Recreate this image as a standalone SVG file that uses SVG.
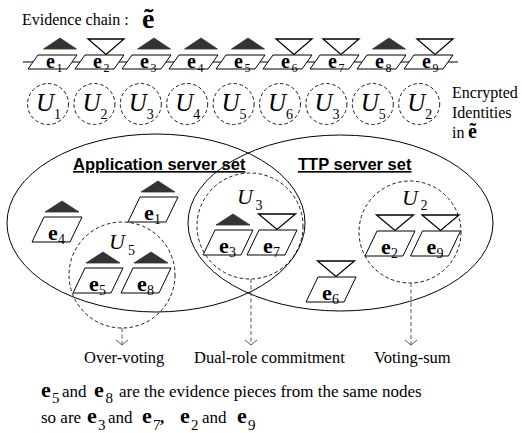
<svg xmlns="http://www.w3.org/2000/svg" width="522" height="433" viewBox="0 0 522 433">
<style>
  .t16{font-family:'Liberation Serif','Times New Roman',serif;font-size:16px;fill:#000}
  .big{font-family:'Liberation Serif','Times New Roman',serif;font-size:28px;font-weight:bold;fill:#000}
  .ce{font-family:'Liberation Serif','Times New Roman',serif;font-size:20px;font-weight:bold;fill:#000}
  .cs{font-family:'Liberation Serif','Times New Roman',serif;font-size:12px;fill:#000}
  .cu{font-family:'Liberation Serif','Times New Roman',serif;font-size:25px;font-style:italic;fill:#000}
  .cus{font-family:'Liberation Serif','Times New Roman',serif;font-size:14px;fill:#000}
  .iu{font-family:'Liberation Serif','Times New Roman',serif;font-size:22px;font-style:italic;fill:#000}
  .ie{font-family:'Liberation Serif','Times New Roman',serif;font-size:22px;font-weight:bold;fill:#000}
  .is{font-family:'Liberation Serif','Times New Roman',serif;font-size:14px;fill:#000}
  .ns{font-family:'Liberation Serif','Times New Roman',serif;font-size:15px;fill:#000}
  .lab{font-family:'Liberation Serif','Times New Roman',serif;font-size:16.5px;fill:#000}
  .txt{font-family:'Liberation Serif','Times New Roman',serif;font-size:17px;fill:#000}
  .txb{font-family:'Liberation Serif','Times New Roman',serif;font-size:17px;font-weight:bold;fill:#000}
  .ttl{font-family:'Liberation Sans',Arial,sans-serif;font-weight:bold;font-size:16.5px;text-decoration:underline;fill:#000}
  .box{fill:#fff;stroke:#000;stroke-width:1}
  .up{fill:#333;stroke:#333;stroke-width:0.8}
  .dn{fill:#fff;stroke:#000;stroke-width:1.3}
  .dc{fill:none;stroke:#000;stroke-width:0.9;stroke-dasharray:3.5 2.5}
  .set{fill:none;stroke:#000;stroke-width:1}
  .arr{fill:none;stroke:#555;stroke-width:1;stroke-dasharray:4 2.5}
  .chain{fill:none;stroke:#000;stroke-width:1}
</style>
<defs>
  <!-- chain piece and set piece outlines -->
  <path id="cb" d="M0,0 H39 L29,14 H-10 Z"/>
  <path id="ib" d="M0,0 H38 L26,25 H-12 Z"/>
  <!-- role marks: filled = application, open inverted = TTP -->
  <path id="cup" d="M-16.5,0 L0,-11 L16.5,0 Z"/>
  <path id="cdn" d="M-18,0 H18 L0,15.5 Z"/>
  <path id="iup" d="M-17,0 L0,-11 L17,0 Z"/>
  <path id="idn" d="M-18.5,0 H18.5 L0,15.5 Z"/>
  <marker id="ah" markerUnits="userSpaceOnUse" markerWidth="14" markerHeight="14" refX="0" refY="0" viewBox="-7 -7 14 14" orient="auto" overflow="visible">
    <path d="M-5,-6 L0,0 L-5,6" fill="none" stroke="#555" stroke-width="1" stroke-dasharray="none"/>
  </marker>
</defs>

<text x="22" y="25" class="t16">Evidence chain :</text>
<text x="142" y="28" class="big">ẽ</text>

<!-- evidence chain -->
<g id="chain-line">
  <path class="chain" d="M23,62 H458"/>
</g>
<g id="c-e1"><use href="#cup" class="up" x="60" y="49"/><use href="#cb" class="box" x="38" y="55"/><text x="46" y="68" class="ce">e</text><text x="56.5" y="72" class="cs">1</text></g>
<g id="c-e2"><use href="#cdn" class="dn" x="106" y="39"/><use href="#cb" class="box" x="85" y="55"/><text x="93" y="68" class="ce">e</text><text x="103.5" y="72" class="cs">2</text></g>
<g id="c-e3"><use href="#cup" class="up" x="154" y="49"/><use href="#cb" class="box" x="132" y="55"/><text x="140" y="68" class="ce">e</text><text x="150.5" y="72" class="cs">3</text></g>
<g id="c-e4"><use href="#cup" class="up" x="201" y="49"/><use href="#cb" class="box" x="179" y="55"/><text x="187" y="68" class="ce">e</text><text x="197.5" y="72" class="cs">4</text></g>
<g id="c-e5"><use href="#cup" class="up" x="248" y="49"/><use href="#cb" class="box" x="226" y="55"/><text x="234" y="68" class="ce">e</text><text x="244.5" y="72" class="cs">5</text></g>
<g id="c-e6"><use href="#cdn" class="dn" x="294" y="39"/><use href="#cb" class="box" x="273" y="55"/><text x="281" y="68" class="ce">e</text><text x="291.5" y="72" class="cs">6</text></g>
<g id="c-e7"><use href="#cdn" class="dn" x="341" y="39"/><use href="#cb" class="box" x="320" y="55"/><text x="328" y="68" class="ce">e</text><text x="338.5" y="72" class="cs">7</text></g>
<g id="c-e8"><use href="#cup" class="up" x="389" y="49"/><use href="#cb" class="box" x="367" y="55"/><text x="375" y="68" class="ce">e</text><text x="385.5" y="72" class="cs">8</text></g>
<g id="c-e9"><use href="#cdn" class="dn" x="435" y="39"/><use href="#cb" class="box" x="414" y="55"/><text x="422" y="68" class="ce">e</text><text x="432.5" y="72" class="cs">9</text></g>

<!-- encrypted identities -->
<g id="id1"><circle class="dc" cx="48" cy="104" r="20.5"/><text x="36" y="111" class="cu">U</text><text x="54" y="119" class="cus">1</text></g>
<g id="id2"><circle class="dc" cx="94.4" cy="104" r="20.5"/><text x="82.4" y="111" class="cu">U</text><text x="100.4" y="119" class="cus">2</text></g>
<g id="id3"><circle class="dc" cx="140.8" cy="104" r="20.5"/><text x="128.8" y="111" class="cu">U</text><text x="146.8" y="119" class="cus">3</text></g>
<g id="id4"><circle class="dc" cx="187.2" cy="104" r="20.5"/><text x="175.2" y="111" class="cu">U</text><text x="193.2" y="119" class="cus">4</text></g>
<g id="id5"><circle class="dc" cx="233.6" cy="104" r="20.5"/><text x="221.6" y="111" class="cu">U</text><text x="239.6" y="119" class="cus">5</text></g>
<g id="id6"><circle class="dc" cx="280" cy="104" r="20.5"/><text x="268" y="111" class="cu">U</text><text x="286" y="119" class="cus">6</text></g>
<g id="id7"><circle class="dc" cx="326.4" cy="104" r="20.5"/><text x="314.4" y="111" class="cu">U</text><text x="332.4" y="119" class="cus">3</text></g>
<g id="id8"><circle class="dc" cx="372.8" cy="104" r="20.5"/><text x="360.8" y="111" class="cu">U</text><text x="378.8" y="119" class="cus">5</text></g>
<g id="id9"><circle class="dc" cx="419.2" cy="104" r="20.5"/><text x="407.2" y="111" class="cu">U</text><text x="425.2" y="119" class="cus">2</text></g>

<g id="legend">
  <text x="452" y="98" class="t16">Encrypted</text>
  <text x="452" y="118" class="t16">Identities</text>
  <text x="452" y="138" class="t16">in</text>
  <text x="468" y="138" class="ce">ẽ</text>
</g>

<!-- server sets -->
<g id="app-set">
  <ellipse class="set" cx="156" cy="223" rx="149" ry="89"/>
  <text x="73" y="170" class="ttl">Application server set</text>
</g>
<g id="ttp-set">
  <ellipse class="set" cx="340.5" cy="223" rx="152.5" ry="88"/>
  <text x="298" y="170" class="ttl">TTP server set</text>
</g>

<!-- node groups -->
<g id="u5">
  <circle class="dc" cx="122" cy="275" r="53"/>
  <text x="109" y="249" class="iu">U</text><text x="128" y="255" class="is">5</text>
</g>
<g id="u3">
  <circle class="dc" cx="250" cy="226" r="53"/>
  <text x="237" y="204" class="iu">U</text><text x="255.5" y="210" class="is">3</text>
</g>
<g id="u2">
  <circle class="dc" cx="410" cy="232" r="51"/>
  <text x="402" y="205" class="iu">U</text><text x="420.5" y="210" class="is">2</text>
</g>

<g id="s-e4"><use href="#iup" class="up" x="62" y="212"/><use href="#ib" class="box" x="44" y="217"/><text x="48" y="240" class="ie">e</text><text x="58" y="244" class="is">4</text></g>
<g id="s-e1"><use href="#iup" class="up" x="158" y="192"/><use href="#ib" class="box" x="140" y="197"/><text x="144" y="220" class="ie">e</text><text x="154" y="224" class="is">1</text></g>
<g id="s-e5"><use href="#iup" class="up" x="103" y="263"/><use href="#ib" class="box" x="85" y="268"/><text x="89" y="291" class="ie">e</text><text x="99" y="295" class="is">5</text></g>
<g id="s-e8"><use href="#iup" class="up" x="151" y="263"/><use href="#ib" class="box" x="133" y="268"/><text x="137" y="291" class="ie">e</text><text x="147" y="295" class="is">8</text></g>
<g id="s-e3"><use href="#iup" class="up" x="233" y="225"/><use href="#ib" class="box" x="215" y="230"/><text x="219" y="253" class="ie">e</text><text x="229" y="257" class="is">3</text></g>
<g id="s-e7"><use href="#idn" class="dn" x="277" y="214"/><use href="#ib" class="box" x="259" y="230"/><text x="263" y="253" class="ie">e</text><text x="273" y="257" class="is">7</text></g>
<g id="s-e6"><use href="#idn" class="dn" x="336" y="261"/><use href="#ib" class="box" x="318" y="277"/><text x="322" y="300" class="ie">e</text><text x="332" y="304" class="is">6</text></g>
<g id="s-e2"><use href="#idn" class="dn" x="395" y="215"/><use href="#ib" class="box" x="377" y="231"/><text x="381" y="254" class="ie">e</text><text x="391" y="258" class="is">2</text></g>
<g id="s-e9"><use href="#idn" class="dn" x="440.5" y="215"/><use href="#ib" class="box" x="422.5" y="231"/><text x="426.5" y="254" class="ie">e</text><text x="436.5" y="258" class="is">9</text></g>

<!-- connectors -->
<g id="connectors">
  <path class="arr" d="M122,328 V345" marker-end="url(#ah)"/>
  <path class="arr" d="M251,279 V345" marker-end="url(#ah)"/>
  <path class="arr" d="M411,283 V345" marker-end="url(#ah)"/>
</g>

<g id="labels">
  <text x="84" y="363" class="lab">Over-voting</text>
  <text x="194" y="363" class="lab">Dual-role commitment</text>
  <text x="374" y="363" class="lab">Voting-sum</text>
</g>

<!-- note -->
<g id="note">
  <text x="41" y="397" class="ie">e</text><text x="52" y="403" class="ns">5</text>
  <text x="62" y="397" class="txt">and</text>
  <text x="94" y="397" class="ie">e</text><text x="105.5" y="403" class="ns">8</text>
  <text x="119" y="397" class="txt">are the evidence pieces from the same nodes</text>
  <text x="41" y="423" class="txt">so are</text>
  <text x="87" y="423" class="ie">e</text><text x="98" y="430" class="ns">3</text>
  <text x="108" y="423" class="txt">and</text>
  <text x="142" y="423" class="ie">e</text><text x="153" y="430" class="ns">7</text>
  <text x="160" y="423" class="txb">,</text>
  <text x="180" y="423" class="ie">e</text><text x="191" y="430" class="ns">2</text>
  <text x="202" y="423" class="txt">and</text>
  <text x="237" y="423" class="ie">e</text><text x="248" y="430" class="ns">9</text>
</g>
</svg>
